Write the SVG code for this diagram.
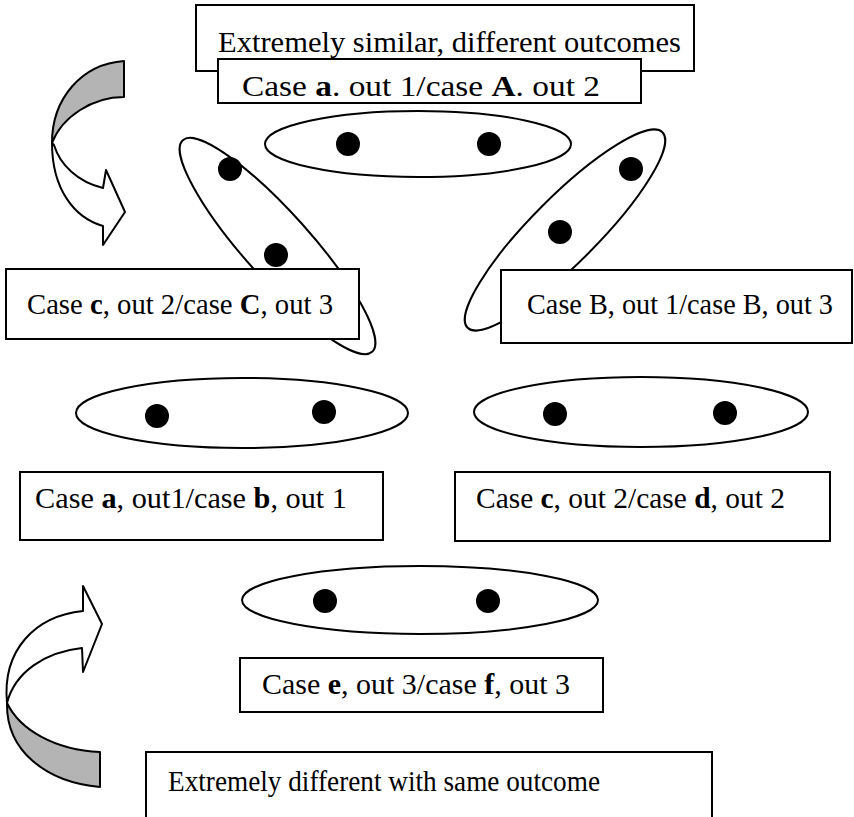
<svg xmlns="http://www.w3.org/2000/svg" width="854" height="817" viewBox="0 0 854 817">
  <style>
    .box { fill: #fff; stroke: #000; stroke-width: 2; }
    .oval { fill: #fff; stroke: #000; stroke-width: 2; }
    .dot { fill: #000; }
    .lbl { font-family: "Liberation Serif", "Times New Roman", serif; font-size: 29px; fill: #000; }
    .b { font-weight: bold; }
    .shade { fill: #b4b4b4; stroke: #000; stroke-width: 2; stroke-linejoin: round; }
    .band { fill: #fff; stroke: #000; stroke-width: 2; stroke-linejoin: round; }
  </style>
  <rect width="854" height="817" fill="#fff"/>

  <!-- curved arrow, upper left -->
  <g id="arrow-top">
    <path class="shade" d="M124,61 C82,64 52,98 52,143 C62,117 92,97 124,97 Z"/>
    <path class="band" d="M52,143 C52,190 75,218 103,226 L103,245 L125,212 L106,170 L103,188 C78,182 60,165 54,145 Z"/>
  </g>

  <!-- curved arrow, lower left -->
  <g id="arrow-bottom">
    <path class="shade" d="M100,787 C45,782 6,750 7,703 C20,730 55,750 100,752 Z"/>
    <path class="band" d="M7,703 C2,650 35,616 83,611 L83,586 L102,624 L83,672 L82,648 C45,652 15,672 7,703 Z"/>
  </g>

  <!-- title boxes -->
  <g id="title-similar">
    <rect class="box" x="196" y="5" width="498" height="66"/>
    <text class="lbl" x="218" y="52" textLength="463" lengthAdjust="spacingAndGlyphs">Extremely similar, different outcomes</text>
  </g>
  <g id="pair-aA">
    <rect class="box" x="218" y="59" width="423" height="44"/>
    <text class="lbl" x="242" y="96" textLength="358" lengthAdjust="spacingAndGlyphs">Case <tspan class="b">a</tspan>. out 1/case <tspan class="b">A</tspan>. out 2</text>
  </g>

  <!-- top group -->
  <g id="group-top">
    <ellipse class="oval" cx="418" cy="144" rx="153" ry="33"/>
    <circle class="dot" cx="348" cy="144" r="12"/>
    <circle class="dot" cx="489" cy="144" r="12"/>
  </g>

  <!-- tilted groups -->
  <g id="group-left">
    <ellipse class="oval" cx="0" cy="0" rx="142" ry="33" transform="translate(277.5,246) rotate(48.2)"/>
    <circle class="dot" cx="230" cy="169" r="12"/>
    <circle class="dot" cx="276" cy="255" r="12"/>
  </g>
  <g id="group-right">
    <ellipse class="oval" cx="0" cy="0" rx="138" ry="33" transform="translate(565,230) rotate(-45.1)"/>
    <circle class="dot" cx="631" cy="169" r="12"/>
    <circle class="dot" cx="560" cy="232" r="12"/>
  </g>

  <g id="pair-cC">
    <rect class="box" x="6" y="269" width="353" height="70"/>
    <text class="lbl" x="27" y="314" textLength="306" lengthAdjust="spacingAndGlyphs">Case <tspan class="b">c</tspan>, out 2/case <tspan class="b">C</tspan>, out 3</text>
  </g>
  <g id="pair-BB">
    <rect class="box" x="501" y="270" width="351" height="73"/>
    <text class="lbl" x="527" y="314" textLength="306" lengthAdjust="spacingAndGlyphs">Case B, out 1/case B, out 3</text>
  </g>

  <!-- middle groups -->
  <g id="group-mid-left">
    <ellipse class="oval" cx="242" cy="413" rx="166" ry="35"/>
    <circle class="dot" cx="157" cy="416" r="12"/>
    <circle class="dot" cx="324" cy="412" r="12"/>
  </g>
  <g id="group-mid-right">
    <ellipse class="oval" cx="641" cy="412" rx="167" ry="35"/>
    <circle class="dot" cx="555" cy="414" r="12"/>
    <circle class="dot" cx="725" cy="413" r="12"/>
  </g>

  <g id="pair-ab">
    <rect class="box" x="20" y="472" width="363" height="68"/>
    <text class="lbl" x="35" y="508" textLength="312" lengthAdjust="spacingAndGlyphs">Case <tspan class="b">a</tspan>, out1/case <tspan class="b">b</tspan>, out 1</text>
  </g>
  <g id="pair-cd">
    <rect class="box" x="455" y="472" width="375" height="69"/>
    <text class="lbl" x="476" y="508" textLength="309" lengthAdjust="spacingAndGlyphs">Case <tspan class="b">c</tspan>, out 2/case <tspan class="b">d</tspan>, out 2</text>
  </g>

  <!-- bottom group -->
  <g id="group-bottom">
    <ellipse class="oval" cx="420" cy="600" rx="178" ry="34"/>
    <circle class="dot" cx="325" cy="601" r="12"/>
    <circle class="dot" cx="488" cy="601" r="12"/>
  </g>

  <g id="pair-ef">
    <rect class="box" x="240" y="658" width="363" height="54"/>
    <text class="lbl" x="262" y="694" textLength="308" lengthAdjust="spacingAndGlyphs">Case <tspan class="b">e</tspan>, out 3/case <tspan class="b">f</tspan>, out 3</text>
  </g>

  <g id="title-different">
    <rect class="box" x="146" y="752" width="566" height="80"/>
    <text class="lbl" x="168" y="791" textLength="432" lengthAdjust="spacingAndGlyphs">Extremely different with same outcome</text>
  </g>
</svg>
